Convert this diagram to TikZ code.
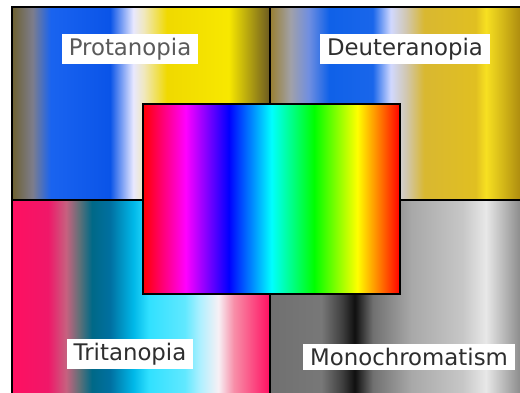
\documentclass[tikz,border=0pt]{standalone}
\usepackage{fontspec}
\setmainfont{DejaVu Sans}
\usepackage{tikz}
\usepackage{xcolor}
\definecolor{LabelInk}{HTML}{2E2E2E}
\definecolor{LabelGrey}{HTML}{5A5A5A}

% stops from 25bp to 75bp span the filled rectangle
\pgfdeclarehorizontalshading{spectrum}{100bp}{rgb(0bp)=(1,0,0); rgb(25bp)=(1,0,0); rgb(33.3bp)=(1,0,1); rgb(41.7bp)=(0,0,1); rgb(50bp)=(0,1,1); rgb(58.3bp)=(0,1,0); rgb(66.7bp)=(1,1,0); rgb(75bp)=(1,0,0); rgb(100bp)=(1,0,0)}
\pgfdeclarehorizontalshading{protan}{100bp}{rgb(0bp)=(0.43,0.38,0.19); rgb(25bp)=(0.43,0.38,0.19); rgb(29bp)=(0.49,0.49,0.55); rgb(32.5bp)=(0.10,0.39,0.94); rgb(44bp)=(0.04,0.33,0.91); rgb(48.5bp)=(0.91,0.91,1); rgb(50.5bp)=(0.94,0.91,0.75); rgb(55bp)=(0.94,0.85,0); rgb(67bp)=(0.97,0.91,0); rgb(75bp)=(0.42,0.35,0.13); rgb(100bp)=(0.42,0.35,0.13)}
\pgfdeclarehorizontalshading{deutan}{100bp}{rgb(0bp)=(0.60,0.50,0.19); rgb(25bp)=(0.60,0.50,0.19); rgb(29bp)=(0.63,0.63,0.66); rgb(32.5bp)=(0.44,0.56,0.88); rgb(36.5bp)=(0.06,0.38,0.91); rgb(45bp)=(0.10,0.40,0.92); rgb(48.5bp)=(0.82,0.85,1); rgb(51.5bp)=(0.82,0.78,0.69); rgb(55bp)=(0.85,0.72,0.19); rgb(65bp)=(0.88,0.75,0.13); rgb(67bp)=(0.97,0.88,0.13); rgb(73.5bp)=(0.69,0.56,0.06); rgb(75bp)=(0.63,0.50,0.06); rgb(100bp)=(0.63,0.50,0.06)}
\pgfdeclarehorizontalshading{tritan}{100bp}{rgb(0bp)=(1,0.06,0.38); rgb(25bp)=(1,0.06,0.38); rgb(32bp)=(0.94,0.09,0.41); rgb(35.5bp)=(0.78,0.38,0.50); rgb(38bp)=(0.38,0.44,0.47); rgb(40.5bp)=(0,0.41,0.53); rgb(44bp)=(0,0.44,0.63); rgb(48.5bp)=(0,0.72,0.91); rgb(51.5bp)=(0.19,0.88,1); rgb(58.5bp)=(0.38,0.91,1); rgb(61.5bp)=(0.69,0.94,1); rgb(65bp)=(0.97,0.94,0.96); rgb(68bp)=(0.97,0.56,0.66); rgb(75bp)=(1,0.06,0.38); rgb(100bp)=(1,0.06,0.38)}
\pgfdeclarehorizontalshading{achroma}{100bp}{rgb(0bp)=(0.44,0.44,0.44); rgb(25bp)=(0.44,0.44,0.44); rgb(35bp)=(0.47,0.47,0.47); rgb(39bp)=(0.25,0.25,0.25); rgb(41.5bp)=(0.06,0.06,0.06); rgb(45bp)=(0.44,0.44,0.44); rgb(52.5bp)=(0.66,0.66,0.66); rgb(62.5bp)=(0.78,0.78,0.78); rgb(67bp)=(0.91,0.91,0.91); rgb(73.5bp)=(0.56,0.56,0.56); rgb(75bp)=(0.53,0.53,0.53); rgb(100bp)=(0.53,0.53,0.53)}

\begin{document}
\begin{tikzpicture}[x=0.02cm, y=-0.02cm, namebox/.style={fill=white, text=LabelInk, inner xsep=4pt, inner ysep=2.5pt, font=\fontsize{13}{15}\selectfont}]
        \useasboundingbox (0,0) rectangle (520,392);
        \clip (0,0) rectangle (520,392);
        % the four simulated views
        \shade[shading=protan] (12,7) rectangle (270,200);
        \shade[shading=deutan] (270,7) rectangle (527,200);
        \shade[shading=tritan] (12,200) rectangle (270,392);
        \shade[shading=achroma] (270,200) rectangle (527,392);
        \draw[line width=1.2pt] (12,400) -- (12,7) -- (530,7);
        \draw[line width=1.2pt] (12,200) -- (530,200);
        \draw[line width=1.2pt] (270,7) -- (270,400);
        % original spectrum on top
        \shadedraw[shading=spectrum, line width=1.1pt] (143,104) rectangle (400,294);
        \node[namebox, text=LabelGrey] (prot) at (130,49) {Protanopia};
        \node[namebox] (deut) at (405,49) {Deuteranopia};
        \node[namebox] (trit) at (130,354) {Tritanopia};
        \node[namebox] (mono) at (409,357) {Monochromatism};
      \end{tikzpicture}
\end{document}
